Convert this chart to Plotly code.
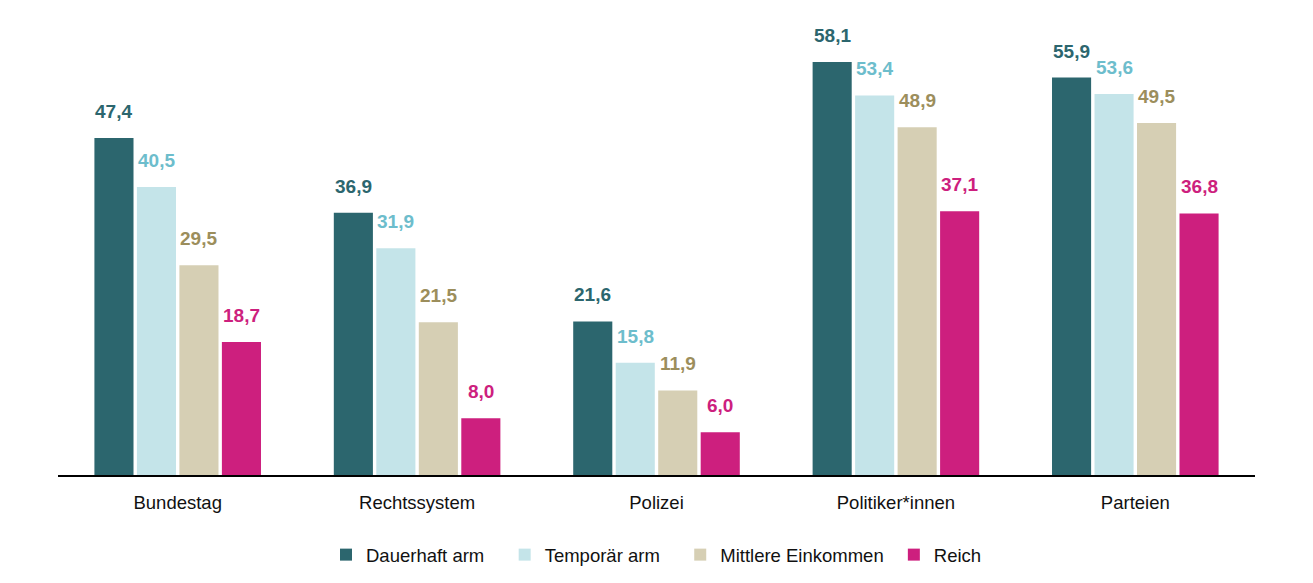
import plotly.graph_objects as go

categories = ["Bundestag", "Rechtssystem", "Polizei", "Politiker*innen", "Parteien"]
series_names = ["Dauerhaft arm", "Temporär arm", "Mittlere Einkommen", "Reich"]
dauerhaft_arm = [47.4, 36.9, 21.6, 58.1, 55.9]
temporaer_arm = [40.5, 31.9, 15.8, 53.4, 53.6]
mittlere_einkommen = [29.5, 21.5, 11.9, 48.9, 49.5]
reich = [18.7, 8.0, 6.0, 37.1, 36.8]

series_values = [dauerhaft_arm, temporaer_arm, mittlere_einkommen, reich]
bar_colors = ["#2C666E", "#C4E4E9", "#D6CFB4", "#CD1F7E"]
label_colors = ["#2C666E", "#6DBDCC", "#9C8E5C", "#CD1F7E"]
legend_pads = [3, 3, 1, 0]

BARGAP = 0.29
BARGROUPGAP = 0.08
LABEL_FONT = "Liberation Sans, Arial, sans-serif"
TEXT_FONT = "Liberation Sans, Arial, sans-serif"

fig = go.Figure()
for name, vals, col, pad in zip(series_names, series_values, bar_colors, legend_pads):
    fig.add_trace(go.Bar(
        name=name + "\u00a0" * pad, x=categories, y=vals,
        marker=dict(color=col, line=dict(width=0)),
        hoverinfo="skip",
    ))

n = len(series_names)
slot = (1 - BARGAP) / n
annotations = []
for si, (vals, lc) in enumerate(zip(series_values, label_colors)):
    off = (si - (n - 1) / 2) * slot
    for ci, v in enumerate(vals):
        annotations.append(dict(
            x=ci + off, y=v, xref="x", yref="y",
            text="<b>" + f"{v:.1f}".replace(".", ",") + "</b>",
            showarrow=False, yanchor="bottom", xanchor="center", yshift=14,
            font=dict(family=LABEL_FONT, size=19, color=lc),
        ))

fig.update_layout(
    width=1313, height=583,
    margin=dict(l=50, r=66, t=17, b=116),
    paper_bgcolor="white", plot_bgcolor="white",
    barmode="group", bargap=BARGAP, bargroupgap=BARGROUPGAP,
    annotations=annotations,
    showlegend=True,
    legend=dict(orientation="h", x=0.5, xanchor="center", y=-0.178, yanchor="middle",
                font=dict(family=TEXT_FONT, size=18.5, color="#111111"),
                itemwidth=30, traceorder="normal"),
    xaxis=dict(showline=True, linecolor="#000000", linewidth=2, showgrid=False,
               ticks="", ticklabelstandoff=10,
               tickfont=dict(family=TEXT_FONT, size=18.5, color="#111111")),
    yaxis=dict(range=[0, 63.3], visible=False, showgrid=False, zeroline=False),
)

fig.write_html("out.html")
